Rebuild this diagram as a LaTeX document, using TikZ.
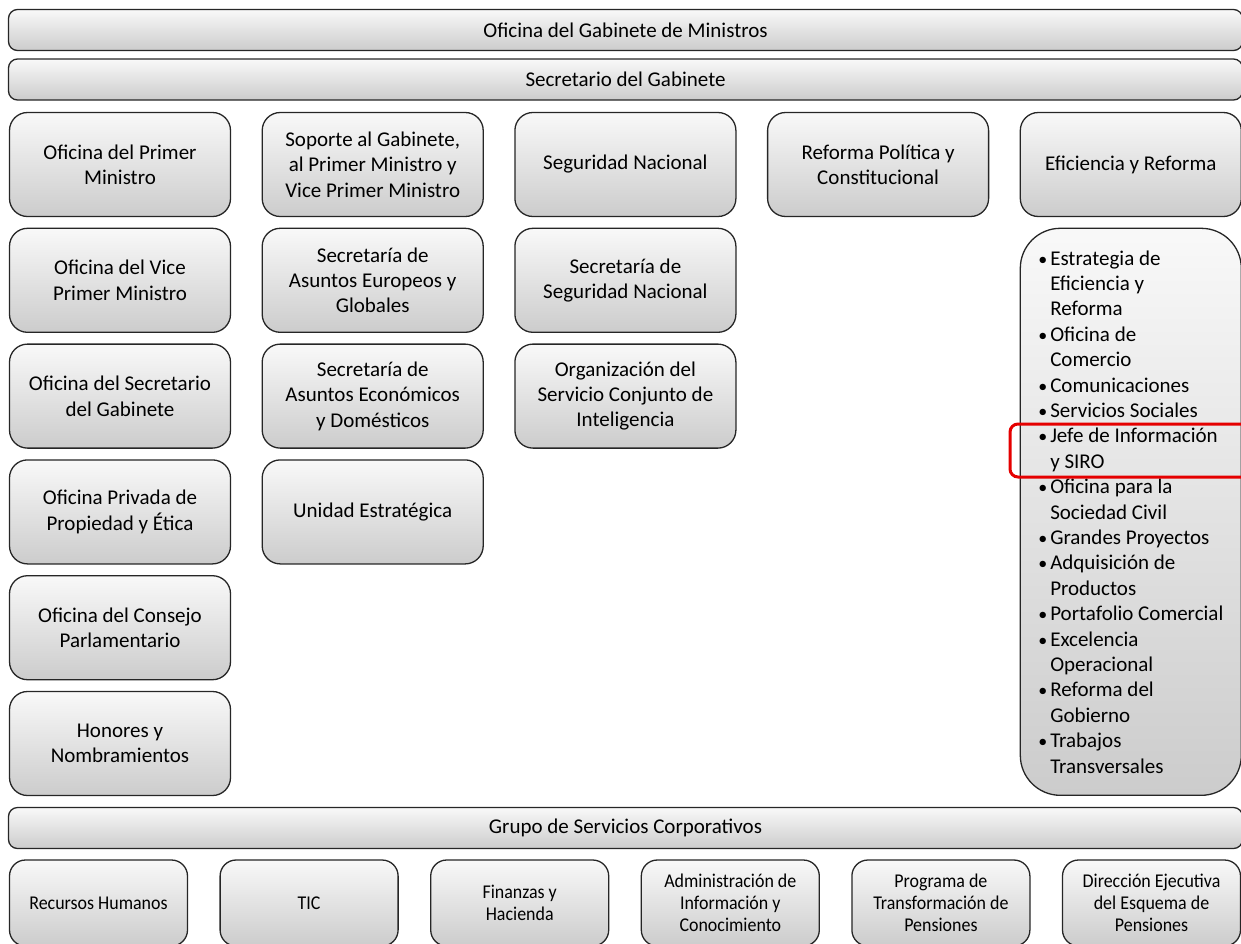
\documentclass[tikz,border=0pt]{standalone}
\usepackage{fontspec}
\setmainfont{Carlito}
\newfontfamily\narrowfont[FakeStretch=0.92]{Carlito}
\usetikzlibrary{positioning}
\newcommand{\itemmark}{\makebox[12pt][l]{\fontsize{18}{20}\selectfont\textbullet}}
\newcommand{\itemcont}{\hspace*{12pt}}

\begin{document}
\begin{tikzpicture}[
  x=1pt,y=-1pt,
  font=\fontsize{21}{25.4}\selectfont,
  unit/.style={rectangle,rounded corners=18pt,draw=black!85,line width=1.3pt,
    top color=gray!5,bottom color=gray!40,
    minimum width=221pt,minimum height=104pt,align=center,inner sep=2pt},
  bar/.style={unit,rounded corners=9pt,minimum width=1234pt,minimum height=41pt},
  listbox/.style={unit,rounded corners=40pt,minimum width=221pt,minimum height=567pt,
    align=left,inner sep=0pt},
  service/.style={unit,rounded corners=16pt,minimum width=178pt,minimum height=86pt,
    font=\narrowfont\fontsize{19.5}{22}\selectfont},
  hilite/.style={rectangle,rounded corners=8pt,draw=red!90!black,line width=3pt,
    minimum width=250pt,minimum height=53pt}
]
\useasboundingbox (0,0) rectangle (1241,943);
\clip (0,0) rectangle (1241,943);

% Bars
\node[bar] (gab) at (625.5,30) {Oficina del Gabinete de Ministros};
\node[bar] (secg) at (625.5,79.5) {Secretario del Gabinete};
\node[bar] (gsc) at (625.5,828) {Grupo de Servicios Corporativos};

% First column
\node[unit] (pm) at (120,164.5) {Oficina del Primer\\Ministro};
\node[unit,below=10.5pt of pm] (vpm) {Oficina del Vice\\Primer Ministro};
\node[unit,below=10.5pt of vpm] (osg) {Oficina del Secretario\\del Gabinete};
\node[unit,below=10.5pt of osg] (priv) {Oficina Privada de\\Propiedad y Ética};
\node[unit,below=10.5pt of priv] (cons) {Oficina del Consejo\\Parlamentario};
\node[unit,below=10.5pt of cons] (hon) {Honores y\\Nombramientos};

% Second column
\node[unit,right=30.4pt of pm] (sop) {Soporte al Gabinete,\\al Primer Ministro y\\Vice Primer Ministro};
\node[unit,below=10.5pt of sop] (euro) {Secretaría de\\Asuntos Europeos y\\Globales};
\node[unit,below=10.5pt of euro] (econ) {Secretaría de\\Asuntos Económicos\\y Domésticos};
\node[unit,below=10.5pt of econ] (estr) {Unidad Estratégica};

% Third column
\node[unit,right=30.4pt of sop] (segn) {Seguridad Nacional};
\node[unit,below=10.5pt of segn] (secsn) {Secretaría de\\Seguridad Nacional};
\node[unit,below=10.5pt of secsn] (intel) {Organización del\\Servicio Conjunto de\\Inteligencia};

% Fourth column
\node[unit,right=30.4pt of segn] (refp) {Reforma Política y\\Constitucional};

% Fifth column
\node[unit,right=30.4pt of refp] (efi) {Eficiencia y Reforma};
\node[listbox,below=10.5pt of efi] (efilist) {%
  \itemmark Estrategia de\\
  \itemcont Eficiencia y\\
  \itemcont Reforma\\
  \itemmark Oficina de\\
  \itemcont Comercio\\
  \itemmark Comunicaciones\\
  \itemmark Servicios Sociales\\
  \itemmark Jefe de Información\\
  \itemcont y SIRO\\
  \itemmark Oficina para la\\
  \itemcont Sociedad Civil\\
  \itemmark Grandes Proyectos\\
  \itemmark Adquisición de\\
  \itemcont Productos\\
  \itemmark Portafolio Comercial\\
  \itemmark Excelencia\\
  \itemcont Operacional\\
  \itemmark Reforma del\\
  \itemcont Gobierno\\
  \itemmark Trabajos\\
  \itemcont Transversales};
\node[hilite] (siro) at (1135,450.5) {};

% Corporate services
\node[service] (rh) at (98.5,903) {Recursos Humanos};
\node[service,right=31.3pt of rh] (tic) {TIC};
\node[service,right=31.3pt of tic] (fin) {Finanzas y\\Hacienda};
\node[service,right=31.3pt of fin] (aic) {Administración de\\Información y\\Conocimiento};
\node[service,right=31.3pt of aic] (ptp) {Programa de\\Transformación de\\Pensiones};
\node[service,right=31.3pt of ptp] (dep) {Dirección Ejecutiva\\del Esquema de\\Pensiones};
\end{tikzpicture}
\end{document}
